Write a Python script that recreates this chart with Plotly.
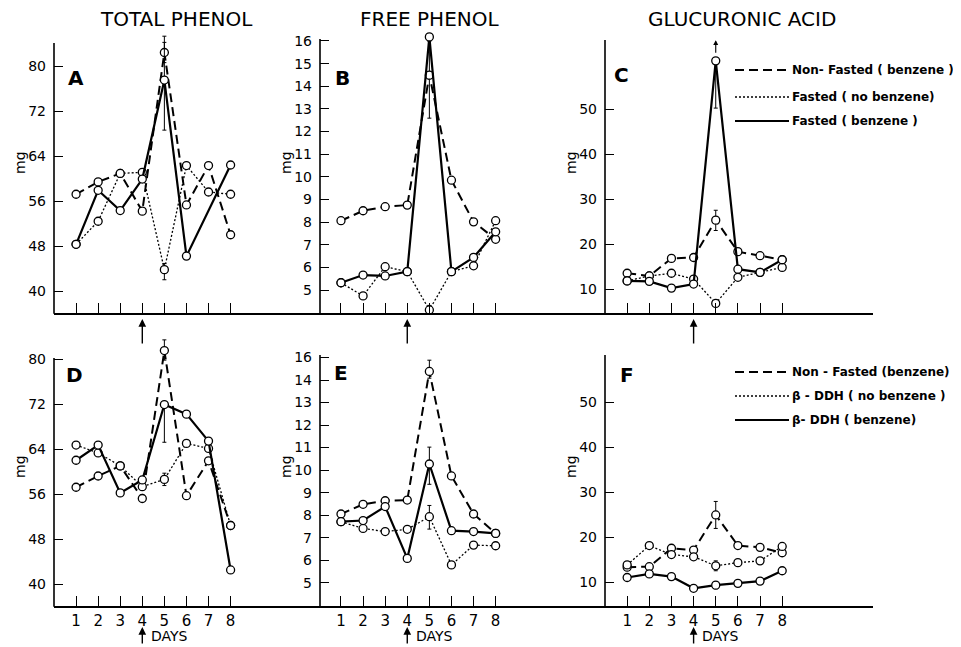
import plotly.graph_objects as go

W, H = 961, 647
OFF = 8  # page body margin in the browser

days = [1, 2, 3, 4, 5, 6, 7, 8]
day_labels = ["1", "2", "3", "4", "5", "6", "7", "8"]

# ---- Panel A: total phenol (fasting study)
total_nonfasted = [57.2, 59.4, 60.9, 54.2, 82.4, 55.3, 62.3, 50.0]
total_fasted_nobenz = [48.3, 52.4, 60.9, 61.1, 43.8, 62.3, 57.6, 57.2]
total_fasted_benz = [48.3, 57.9, 54.3, 59.9, 77.5, 46.2, None, 62.4]
# ---- Panel B: free phenol (fasting study)
free_nonfasted = [8.06, 8.50, 8.68, 8.75, 14.49, 9.85, 8.01, 7.24]
free_fasted_nobenz = [5.32, 4.74, 6.03, 5.81, 4.12, 5.81, 6.07, 8.06]
free_fasted_benz = [5.32, 5.66, 5.62, 5.81, 16.18, 5.81, 6.44, 7.57]
# ---- Panel C: glucuronic acid (fasting study)
gluc_nonfasted = [13.5, 12.9, 16.8, 17.0, 25.3, 18.3, 17.4, 16.5]
gluc_fasted_nobenz = [11.8, 12.9, 13.5, 12.2, 6.8, 12.6, 13.7, 14.8]
gluc_fasted_benz = [11.8, 11.7, 10.2, 11.1, 60.7, 14.4, 13.7, 16.5]
# ---- Panel D: total phenol (beta-DDH study)
ddh_total_nonfasted = [57.2, 59.2, 61.0, 55.2, 81.5, 55.7, 61.9, 50.4]
ddh_total_nobenz = [64.7, 63.3, 61.0, 57.3, 58.6, 65.0, 64.1, 50.4]
ddh_total_benz = [62.0, 64.7, 56.2, 58.5, 71.9, 70.2, 65.4, 42.5]
# ---- Panel E: free phenol (beta-DDH study)
ddh_free_nonfasted = [8.05, 8.48, 8.64, 8.67, 14.38, 9.74, 8.05, 7.19]
ddh_free_nobenz = [7.71, 7.41, 7.27, 7.37, 7.93, 5.79, 6.67, 6.64]
ddh_free_benz = [7.71, 7.76, 8.38, 6.08, 10.27, 7.31, 7.27, 7.19]
# ---- Panel F: glucuronic acid (beta-DDH study)
ddh_gluc_nonfasted = [13.3, 13.4, 17.5, 17.1, 24.9, 18.1, 17.7, 16.5]
ddh_gluc_nobenz = [13.8, 18.1, 16.1, 15.6, 13.6, 14.3, 14.7, 17.9]
ddh_gluc_benz = [11.0, 11.8, 11.2, 8.6, 9.3, 9.7, 10.2, 12.5]

# error bars at day 5 (plus, minus) per series
err = {
    "A": {"dash": (1.8, 1.8), "dot": (1.1, 1.8), "solid": (7.8, 8.9)},
    "B": {"dash": (1.5, 1.9), "dot": (0.2, 0.2), "solid": (0.0, 0.0)},
    "C": {"dash": (2.2, 2.3), "dot": (0.5, 0.5), "solid": (0.0, 10.5)},
    "D": {"dash": (1.9, 1.7), "dot": (1.1, 1.1), "solid": (0.0, 6.7)},
    "E": {"dash": (0.5, 0.3), "dot": (0.5, 0.55), "solid": (0.75, 0.9)},
    "F": {"dash": (3.0, 3.0), "dot": (1.1, 1.1), "solid": (0.8, 0.8)},
}
# off-scale error bars shown as arrows: panel -> (day, value of arrow tip)
offscale = {"B": (4.8, 16.7), "C": (5.0, 65.3)}

col_titles = ["TOTAL PHENOL", "FREE PHENOL", "GLUCURONIC ACID"]
legend_top = ["Non- Fasted ( benzene )", "Fasted ( no benzene)", "Fasted ( benzene )"]
legend_bot = ["Non - Fasted (benzene)", "\u03b2 - DDH ( no benzene )", "\u03b2- DDH ( benzene)"]

panels = [
    ("A", [total_nonfasted, total_fasted_nobenz, total_fasted_benz]),
    ("B", [free_nonfasted, free_fasted_nobenz, free_fasted_benz]),
    ("C", [gluc_nonfasted, gluc_fasted_nobenz, gluc_fasted_benz]),
    ("D", [ddh_total_nonfasted, ddh_total_nobenz, ddh_total_benz]),
    ("E", [ddh_free_nonfasted, ddh_free_nobenz, ddh_free_benz]),
    ("F", [ddh_gluc_nonfasted, ddh_gluc_nobenz, ddh_gluc_benz]),
]

# ---- layout geometry (pixels in the target picture)
col_px = [(54, 320), (320, 605), (605, 873)]
row_px = [(28, 313), (338, 606)]          # plot-area extents (top, bottom)
# y calibration: (tick value, its pixel row, pixels per unit)
ycal = {"A": (40, 291, 45 / 8), "B": (5, 290, 22.64), "C": (10, 289, 4.5),
        "D": (40, 584, 5.625), "E": (5, 582.7, 22.52), "F": (10, 582, 4.5)}
axis_top_px = {"A": 43, "B": 39, "C": 40, "D": 358, "E": 355, "F": 355}
xranges = [[0.0, 12.05], [0.05, 12.95], [0.0, 12.1]]
ytick = {
    "A": ([40, 48, 56, 64, 72, 80], None),
    "B": (list(range(5, 17)), None),
    "C": ([10, 20, 30, 40, 50], None),
    "D": ([40, 48, 56, 64, 72, 80], None),
    "E": (list(range(5, 16)), ["5", "6", "7", "8", "9", "10", "11", "12", "13", "14", "16"]),
    "F": ([10, 20, 30, 40, 50], None),
}

styles = [
    ("dash", dict(color="black", width=2.0, dash="9px,5px")),
    ("dot", dict(color="black", width=1.3, dash="2px,2px")),
    ("solid", dict(color="black", width=2.2)),
]

def px2x(p):
    return (p - OFF) / W

def px2y(p):
    return 1 - (p - OFF) / H

def val_at(letter, p):
    v0, p0, k = ycal[letter]
    return v0 + (p0 - p) / k

fig = go.Figure()
layout = {}
annotations = []
shapes = []

def note(text, x, y, size, xanchor="center", angle=0, xref="paper"):
    return dict(text=text, x=x, y=y, xref=xref, yref="paper", showarrow=False,
                xanchor=xanchor, yanchor="middle", textangle=angle,
                font=dict(size=size, color="black"))

for i, (letter, series) in enumerate(panels):
    r, c = divmod(i, 3)
    n = i + 1
    xa = "x" if n == 1 else f"x{n}"
    ya = "y" if n == 1 else f"y{n}"
    xkey = "xaxis" if n == 1 else f"xaxis{n}"
    ykey = "yaxis" if n == 1 else f"yaxis{n}"
    x0, x1 = col_px[c]
    top, bot = row_px[r]
    layout[xkey] = dict(
        domain=[px2x(x0), px2x(x1)], range=xranges[c], anchor=ya, automargin=False,
        showline=True, linecolor="black", linewidth=1.6, mirror=False,
        ticks="inside", ticklen=10, tickwidth=1.2, tickcolor="black",
        tickvals=days, ticktext=day_labels, showticklabels=(r == 1),
        tickfont=dict(size=15, color="black"), showgrid=False, zeroline=False,
    )
    tv, tt = ytick[letter]
    layout[ykey] = dict(
        domain=[px2y(bot), px2y(top)], range=[val_at(letter, bot), val_at(letter, top)],
        anchor=xa, automargin=False, showline=False,
        ticks="inside", ticklen=9, tickwidth=1, tickcolor="black",
        tickvals=tv, ticktext=tt if tt else [str(v) for v in tv],
        tickfont=dict(size=14, color="black"), ticklabelstandoff=7,
        showgrid=False, zeroline=False,
    )
    # vertical axis line (stops below the top of the plot area, as in the original)
    shapes.append(dict(type="line", xref="paper", yref="paper",
                       x0=px2x(x0), x1=px2x(x0), y0=px2y(bot + 0.8), y1=px2y(axis_top_px[letter]),
                       line=dict(color="black", width=1.6)))
    for (sname, line), vals in zip(styles, series):
        ep, em = err[letter][sname]
        fig.add_trace(go.Scatter(
            x=days, y=vals, xaxis=xa, yaxis=ya, mode="lines+markers",
            line=line, connectgaps=True, cliponaxis=False, showlegend=False,
            marker=dict(symbol="circle", size=8, color="white",
                        line=dict(color="black", width=1.3)),
            error_y=dict(type="data", symmetric=False,
                         array=[ep if d == 5 else 0 for d in days],
                         arrayminus=[em if d == 5 else 0 for d in days],
                         color="black", thickness=1, width=2),
        ))
    if letter in offscale:
        dx, dv = offscale[letter]
        annotations.append(dict(x=dx, y=dv, xref=xa, yref=ya, text="", showarrow=True,
                                ax=0, ay=14, arrowhead=2, arrowsize=0.9, arrowwidth=1.1,
                                arrowcolor="black"))
    letter_pos = {"A": (76, 78), "B": (342, 78), "C": (621, 75),
                  "D": (74, 375), "E": (341, 373), "F": (627, 375)}[letter]
    annotations.append(note(f"<b>{letter}</b>", px2x(letter_pos[0]), px2y(letter_pos[1]), 20))
    mgx = [20, 286, 571][c]
    mgy = [163, 467][r]
    annotations.append(note("mg", px2x(mgx), px2y(mgy), 14, angle=-90))
    if r == 0:
        annotations.append(dict(x=4, y=px2y(319), xref=xa, yref="paper", text="",
                                showarrow=True, ax=0, ay=26, arrowhead=2, arrowsize=1.1,
                                arrowwidth=1.4, arrowcolor="black"))
    else:
        annotations.append(dict(x=4, y=px2y(627), xref=xa, yref="paper", text="",
                                showarrow=True, ax=0, ay=18, arrowhead=2, arrowsize=1.1,
                                arrowwidth=1.4, arrowcolor="black"))
        annotations.append(note("DAYS", 4.3, px2y(636), 14, xanchor="left", xref=xa))

for c, t in enumerate(col_titles):
    cx = [176, 429, 742][c]
    annotations.append(note(t, px2x(cx), px2y(19), 20))

for rows_y, labels in (([70, 97, 121], legend_top), ([372, 396, 420], legend_bot)):
    for (sname, line), yy, lab in zip(styles, rows_y, labels):
        shapes.append(dict(type="line", xref="paper", yref="paper",
                           x0=px2x(735), x1=px2x(789), y0=px2y(yy), y1=px2y(yy),
                           line=dict(color="black", width=line["width"],
                                     dash=line.get("dash", "solid"))))
        annotations.append(note(f"<b>{lab}</b>", px2x(790), px2y(yy), 12, xanchor="left"))

fig.update_layout(
    width=W, height=H, margin=dict(l=0, r=0, t=0, b=0, pad=0), autosize=False,
    paper_bgcolor="white", plot_bgcolor="white",
    font=dict(family="DejaVu Sans", color="black"),
    annotations=annotations, shapes=shapes, showlegend=False,
    **layout,
)

fig.write_html("out.html")
